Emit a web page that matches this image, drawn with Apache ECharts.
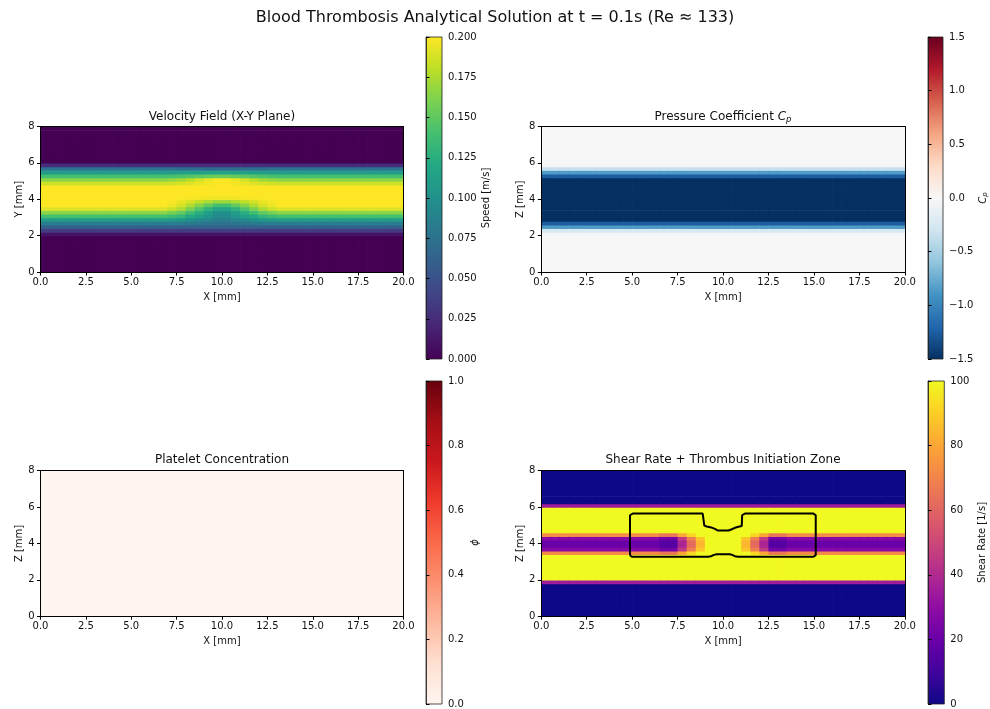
<!DOCTYPE html>
<html><head><meta charset="utf-8">
<script src="https://cdn.jsdelivr.net/npm/echarts@6/dist/echarts.min.js"></script>
<style>html,body{margin:0;padding:0;background:#fff}#chart{width:990px;height:709px}</style>
</head><body><div id="chart"></div>
<script>
// ---------- data ----------
const xEdges = [0,0.5,1,1.5,2,2.5,3,3.5,4,4.5,5,5.5,6,6.5,7,7.5,8,8.5,9,9.5,10,10.5,11,11.5,12,12.5,13,13.5,14,14.5,15,15.5,16,16.5,17,17.5,18,18.5,19,19.5,20];
const yEdges = [0,0.2,0.4,0.6,0.8,1,1.2,1.4,1.6,1.8,2,2.2,2.4,2.6,2.8,3,3.2,3.4,3.6,3.8,4,4.2,4.4,4.6,4.8,5,5.2,5.4,5.6,5.8,6,6.2,6.4,6.6,6.8,7,7.2,7.4,7.6,7.8,8];

const xTicks = [0,2.5,5,7.5,10,12.5,15,17.5,20];
const yTicks = [0,2,4,6,8];

// speed [m/s] vertical profiles (one value per row), columns pick a profile
const velProfiles = [
  [0,0,0,0,0,0,0,0,0,0, .01,.035,.06,.085,.11,.14,.165,.19,.2,.2,.2,.2,.2,.2,.185,.165,.14,.11,.075,.025, 0,0,0,0,0,0,0,0,0,0],
  [0,0,0,0,0,0,0,0,0,0, .01,.035,.06,.084,.108,.136,.16,.184,.195,.198,.2,.2,.2,.2,.186,.168,.141,.11,.075,.025, 0,0,0,0,0,0,0,0,0,0],
  [0,0,0,0,0,0,0,0,0,0, .01,.035,.06,.083,.105,.13,.152,.175,.188,.194,.199,.2,.2,.2,.188,.172,.143,.111,.074,.025, 0,0,0,0,0,0,0,0,0,0],
  [0,0,0,0,0,0,0,0,0,0, .01,.035,.06,.081,.1,.12,.139,.16,.176,.188,.198,.2,.2,.2,.191,.179,.146,.112,.073,.025, 0,0,0,0,0,0,0,0,0,0],
  [0,0,0,0,0,0,0,0,0,0, .01,.035,.06,.079,.094,.112,.125,.144,.163,.181,.197,.2,.2,.2,.194,.187,.149,.113,.072,.025, 0,0,0,0,0,0,0,0,0,0],
  [0,0,0,0,0,0,0,0,0,0, .01,.035,.06,.077,.09,.103,.112,.128,.151,.175,.196,.2,.2,.2,.197,.194,.152,.114,.071,.025, 0,0,0,0,0,0,0,0,0,0],
  [0,0,0,0,0,0,0,0,0,0, .01,.035,.06,.075,.085,.095,.1,.115,.14,.17,.195,.2,.2,.2,.2,.2,.155,.115,.07,.025, 0,0,0,0,0,0,0,0,0,0]
];
const velColumnProfile = [0,0,0,0,0,0,0,0,0,0,0,0,0,0, 1,2,3,4,5,6,6,5,4,3,2,1, 0,0,0,0,0,0,0,0,0,0,0,0,0,0];

// pressure coefficient Cp profile (uniform along x)
const pressureProfile = [0,0,0,0,0,0,0,0,0,0, -0.03,-0.25,-0.85,-1.25,-1.5,-1.5,-1.5,-1.5,-1.5,-1.5,-1.5,-1.5,-1.5,-1.5,-1.5,-1.5,-1.25,-0.85,-0.35,-0.03, 0,0,0,0,0,0,0,0,0,0];

// platelet concentration phi (all zero)
const plateletProfile = [0,0,0,0,0,0,0,0,0,0,0,0,0,0,0,0,0,0,0,0,0,0,0,0,0,0,0,0,0,0,0,0,0,0,0,0,0,0,0,0];

// shear rate [1/s] profiles
const shearProfiles = [
  [0,0,0,0,0,0,0,0,0, 35, 100,100,100,100,100,100,100, 72,27,20,20,27,72, 100,100,100,100,100,100,100, 35, 0,0,0,0,0,0,0,0,0],
  [0,0,0,0,0,0,0,0,0, 35, 100,100,100,100,100,100,100, 66,22,15,15,22,66, 100,100,100,100,100,100,100, 35, 0,0,0,0,0,0,0,0,0],
  [0,0,0,0,0,0,0,0,0, 35, 100,100,100,100,100,100,100, 80,45,38,38,45,80, 100,100,100,100,100,100,100, 35, 0,0,0,0,0,0,0,0,0],
  [0,0,0,0,0,0,0,0,0, 35, 100,100,100,100,100,100,100, 92,68,62,62,68,92, 100,100,100,100,100,100,100, 35, 0,0,0,0,0,0,0,0,0],
  [0,0,0,0,0,0,0,0,0, 35, 100,100,100,100,100,100,100, 100,88,84,84,88,100, 100,100,100,100,100,100,100, 35, 0,0,0,0,0,0,0,0,0],
  [0,0,0,0,0,0,0,0,0, 35, 100,100,100,100,100,100,100, 100,100,100,100,100,100, 100,100,100,100,100,100,100, 35, 0,0,0,0,0,0,0,0,0]
];
const shearColumnProfile = [0,0,0,0,0,0,0,0,0,0,0,0,0, 1,1,2,3,4,5,5,5,5,4,3,2,1,1, 0,0,0,0,0,0,0,0,0,0,0,0,0];

// thrombus initiation zone contour
const zoneX = [4.88,4.88,4.93,5.03,8.88,8.95,8.97,8.97,9.1,9.35,9.55,9.72,10.3,10.48,10.65,10.85,11.03,11.05,11.05,11.1,11.2,14.97,15.07,15.1,15.1,15.06,14.97,10.82,10.65,10.5,10.38,9.65,9.5,9.35,9.18,4.98,4.91,4.88];
const zoneY = [3.35,5.55,5.62,5.64,5.64,5.61,5.55,4.98,4.93,4.88,4.8,4.71,4.71,4.78,4.86,4.92,4.96,5.02,5.55,5.62,5.64,5.64,5.61,5.55,3.36,3.3,3.27,3.27,3.3,3.37,3.41,3.41,3.37,3.3,3.27,3.27,3.3,3.35];

// colorbar ranges / ticks
const speedTicks = [0,0.025,0.05,0.075,0.1,0.125,0.15,0.175,0.2];
const cpTicks = [-1.5,-1,-0.5,0,0.5,1,1.5];
const phiTicks = [0,0.2,0.4,0.6,0.8,1];
const shearTicks = [0,20,40,60,80,100];

// colormaps
const viridis = ['#440154','#482475','#414487','#355f8d','#2a788e','#21918c','#22a884','#44bf70','#7ad151','#bddf26','#fde725'];
const rdbuR = ['#053061','#2166ac','#4393c3','#92c5de','#d1e5f0','#f7f7f7','#fddbc7','#f4a582','#d6604d','#b2182b','#67001f'];
const reds = ['#fff5f0','#fee0d2','#fcbba1','#fc9272','#fb6a4a','#ef3b2c','#cb181d','#a50f15','#67000d'];
const plasma = ['#0d0887','#41049d','#6a00a8','#8f0da4','#b12a90','#cc4778','#e16462','#f2844b','#fca636','#fcce25','#f0f921'];

// ---------- build ----------
const FONT = 'DejaVu Sans';
function buildCells(profiles, colProfile) {
  const out = [];
  for (let i = 0; i < xEdges.length - 1; i++) {
    const p = profiles[colProfile ? colProfile[i] : 0];
    for (let r = 0; r < yEdges.length - 1; r++) {
      out.push([xEdges[i], xEdges[i + 1], yEdges[r], yEdges[r + 1], p[r]]);
    }
  }
  return out;
}
function renderCell(params, api) {
  const p0 = api.coord([api.value(0), api.value(3)]);
  const p1 = api.coord([api.value(1), api.value(2)]);
  return { type: 'rect', shape: { x: p0[0], y: p0[1], width: p1[0] - p0[0] + 0.7, height: p1[1] - p0[1] + 0.7 },
           style: { fill: api.visual('color') } };
}
function gradientRenderer(cmap) {
  return function (params, api) {
    const p0 = api.coord([api.value(0), api.value(3)]);
    const p1 = api.coord([api.value(1), api.value(2)]);
    const stops = cmap.map((c, i) => ({ offset: i / (cmap.length - 1), color: c }));
    return { type: 'rect', shape: { x: p0[0], y: p0[1], width: p1[0] - p0[0], height: p1[1] - p0[1] },
             style: { fill: new echarts.graphic.LinearGradient(0, 1, 0, 0, stops), stroke: '#222', lineWidth: 0.8 } };
  };
}
const lineCol = '#000';
const txt = { color: '#111', fontSize: 10, fontFamily: FONT };

const mainGrids = [
  { left: 40.5, top: 126.5, width: 363, height: 145.5 },
  { left: 541.3, top: 126.5, width: 363.5, height: 145.5 },
  { left: 40.5, top: 470.7, width: 363, height: 145.5 },
  { left: 541.3, top: 470.7, width: 363.5, height: 145.5 }
];
const cbGrids = [
  { left: 426, top: 37, width: 16, height: 322 },
  { left: 928, top: 37, width: 16.3, height: 322 },
  { left: 426, top: 381, width: 16, height: 324 },
  { left: 928, top: 381, width: 16.3, height: 324 }
];
const yNames = ['Y [mm]', 'Z [mm]', 'Z [mm]', 'Z [mm]'];

const xAxes = [], yAxes = [];
mainGrids.forEach((g, k) => {
  xAxes.push({ type: 'value', gridIndex: k, position: 'bottom', min: xTicks[0], max: xTicks[xTicks.length - 1],
    interval: xTicks[1] - xTicks[0], z: 10,
    axisLine: { onZero: false, lineStyle: { color: lineCol, width: 1 } },
    axisTick: { length: 3.5, lineStyle: { color: lineCol, width: 1 } },
    axisLabel: Object.assign({ margin: 5, formatter: v => v.toFixed(1) }, txt),
    splitLine: { show: false },
    name: 'X [mm]', nameLocation: 'middle', nameGap: 20, nameTextStyle: txt });
  xAxes.push({ type: 'value', gridIndex: k, position: 'top', min: xTicks[0], max: xTicks[xTicks.length - 1], z: 10,
    axisLine: { onZero: false, lineStyle: { color: lineCol, width: 1 } },
    axisTick: { show: false }, axisLabel: { show: false }, splitLine: { show: false } });
  yAxes.push({ type: 'value', gridIndex: k, position: 'left', min: yTicks[0], max: yTicks[yTicks.length - 1],
    interval: yTicks[1] - yTicks[0], z: 10,
    axisLine: { onZero: false, lineStyle: { color: lineCol, width: 1 } },
    axisTick: { length: 3.5, lineStyle: { color: lineCol, width: 1 } },
    axisLabel: Object.assign({ margin: 6 }, txt),
    splitLine: { show: false },
    name: yNames[k], nameLocation: 'middle', nameRotate: 90, nameGap: 15, nameTextStyle: txt });
  yAxes.push({ type: 'value', gridIndex: k, position: 'right', min: yTicks[0], max: yTicks[yTicks.length - 1], z: 10,
    axisLine: { onZero: false, lineStyle: { color: lineCol, width: 1 } },
    axisTick: { show: false }, axisLabel: { show: false }, splitLine: { show: false } });
});
const cbDefs = [
  { ticks: speedTicks, fmt: v => v.toFixed(3), name: 'Speed [m/s]', gap: 39 },
  { ticks: cpTicks, fmt: v => v.toFixed(1).replace('-', '\u2212'), name: '{i|C}{s|p}', gap: 34 },
  { ticks: phiTicks, fmt: v => v.toFixed(1), name: '{i|\u03d5}', gap: 28 },
  { ticks: shearTicks, fmt: v => String(v), name: 'Shear Rate [1/s]', gap: 33 }
];
cbDefs.forEach((d, k) => {
  xAxes.push({ type: 'value', gridIndex: 4 + k, min: 0, max: 1, show: false });
  yAxes.push({ type: 'value', gridIndex: 4 + k, position: 'right', min: d.ticks[0], max: d.ticks[d.ticks.length - 1],
    interval: d.ticks[1] - d.ticks[0], z: 10,
    axisLine: { lineStyle: { color: '#222', width: 0.8 } },
    axisTick: { length: 3.5, lineStyle: { color: lineCol, width: 1 } },
    axisLabel: Object.assign({ margin: 6, formatter: d.fmt }, txt),
    splitLine: { show: false },
    name: d.name, nameLocation: 'middle', nameRotate: 90, nameGap: d.gap,
    nameTextStyle: Object.assign({}, txt, { rich: {
      i: { fontStyle: 'italic', fontSize: 10, fontFamily: FONT, color: '#111' },
      s: { fontStyle: 'italic', fontSize: 7, fontFamily: FONT, color: '#111', padding: [5, 0, 0, 0] } } }) });
});

const cmaps = [viridis, rdbuR, reds, plasma];
const ranges = [speedTicks, cpTicks, phiTicks, shearTicks];
const fields = [
  buildCells(velProfiles, velColumnProfile),
  buildCells([pressureProfile], null),
  buildCells([plateletProfile], null),
  buildCells(shearProfiles, shearColumnProfile)
];
const series = fields.map((data, k) => ({
  type: 'custom', xAxisIndex: 2 * k, yAxisIndex: 2 * k, renderItem: renderCell, data: data,
  encode: { x: [0, 1], y: [2, 3] }, clip: true, silent: true, z: 2
}));
series.push({ type: 'line', xAxisIndex: 6, yAxisIndex: 6, data: zoneX.map((x, i) => [x, zoneY[i]]),
  showSymbol: false, symbol: 'none', lineStyle: { color: '#000', width: 2 }, z: 5, silent: true });
cbDefs.forEach((d, k) => {
  series.push({ type: 'custom', xAxisIndex: 8 + k, yAxisIndex: 8 + k, renderItem: gradientRenderer(cmaps[k]),
    data: [[0, 1, d.ticks[0], d.ticks[d.ticks.length - 1]]], encode: { x: [0, 1], y: [2, 3] }, silent: true, z: 2 });
});
const visualMaps = ranges.map((t, k) => ({ type: 'continuous', show: false, seriesIndex: k, dimension: 4,
  min: t[0], max: t[t.length - 1], inRange: { color: cmaps[k] } }));

const titleStyle = { fontSize: 12, fontFamily: FONT, fill: '#111', align: 'center', verticalAlign: 'middle' };
const graphics = [
  { type: 'text', x: 495, y: 18, style: Object.assign({}, titleStyle, { text: 'Blood Thrombosis Analytical Solution at t = 0.1s (Re \u2248 133)', fontSize: 16 }) },
  { type: 'text', x: 222, y: 117, style: Object.assign({}, titleStyle, { text: 'Velocity Field (X-Y Plane)' }) },
  { type: 'text', x: 723, y: 117, style: Object.assign({}, titleStyle, { text: 'Pressure Coefficient {i|C}{s|p}',
      rich: { i: { fontStyle: 'italic', fontSize: 12, fontFamily: FONT, fill: '#111' },
              s: { fontStyle: 'italic', fontSize: 8.5, fontFamily: FONT, fill: '#111', padding: [6, 0, 0, 0] } } }) },
  { type: 'text', x: 222, y: 460, style: Object.assign({}, titleStyle, { text: 'Platelet Concentration' }) },
  { type: 'text', x: 723, y: 460, style: Object.assign({}, titleStyle, { text: 'Shear Rate + Thrombus Initiation Zone' }) }
];

const chart = echarts.init(document.getElementById('chart'), null, { renderer: 'canvas' });
chart.setOption({
  animation: false,
  backgroundColor: '#fff',
  grid: mainGrids.concat(cbGrids).map(g => Object.assign({ containLabel: false }, g)),
  xAxis: xAxes, yAxis: yAxes,
  visualMap: visualMaps,
  series: series,
  graphic: graphics
});
</script></body></html>
